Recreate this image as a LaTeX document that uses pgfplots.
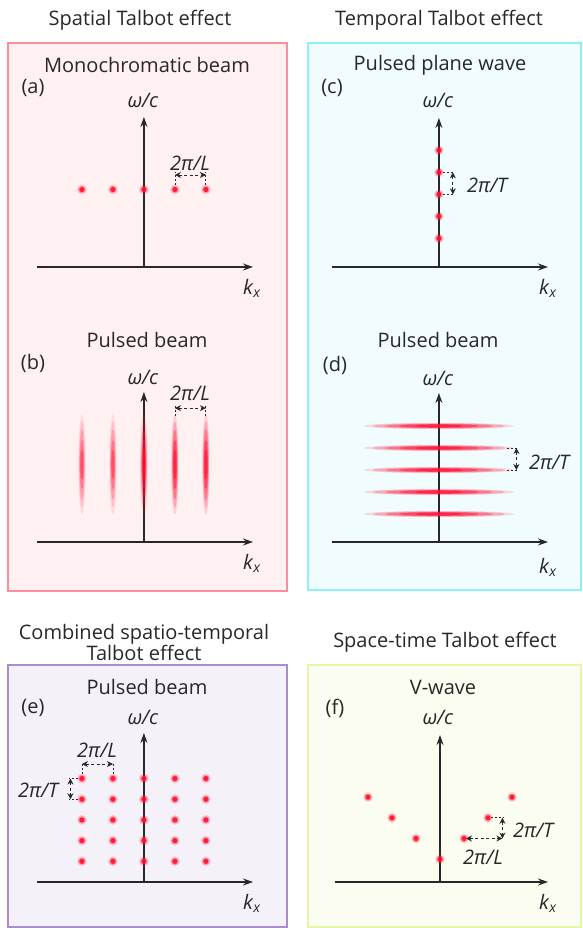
\documentclass[border=0pt]{standalone}
\usepackage{pgfplots}
\pgfplotsset{compat=1.18}
\usetikzlibrary{arrows.meta}
\usepackage{fontspec}
\setmainfont{Open Sans}

\definecolor{dotred}{RGB}{255,15,50}
\definecolor{bgA}{RGB}{255,240,241}
\definecolor{bdA}{RGB}{255,140,155}
\definecolor{bgC}{RGB}{240,252,254}
\definecolor{bdC}{RGB}{140,240,248}
\definecolor{bgE}{RGB}{244,241,248}
\definecolor{bdE}{RGB}{170,140,210}
\definecolor{bgF}{RGB}{250,253,240}
\definecolor{bdF}{RGB}{225,248,165}
\definecolor{ink}{RGB}{40,40,40}

\tikzset{redmark/.style={draw opacity=0, fill=dotred, fill opacity=#1}}
\pgfplotsset{
  panel/.style={scale only axis, anchor=south west, axis lines=middle,
    xtick=\empty, ytick=\empty, enlargelimits=false, clip=false, ymin=0,
    axis line style={line width=1.2pt, ink, -{Stealth[length=10pt,width=7pt]}}},
  glow/.style={only marks, mark=*, mark size=5pt, mark options={redmark=0.15}},
  glow2/.style={only marks, mark=*, mark size=3.8pt, mark options={redmark=0.3}},
  dot/.style={only marks, mark=*, mark size=2.6pt, mark options={redmark=0.9}},
  tickl/.style={line width=0.8pt, ink, dash pattern=on 2pt off 2pt},
  dimarr/.style={line width=0.8pt, ink, dash pattern=on 3pt off 2.5pt,
    arrows={Stealth[length=6pt,width=6pt]-Stealth[length=6pt,width=6pt]}},
}
\newcommand\spots[1]{\addplot[glow] coordinates {#1};\addplot[glow2] coordinates {#1};\addplot[dot] coordinates {#1};}
% layered soft ellipses, #1 opacity factor, #2 coordinates
\newcommand\vlayers[2]{%
  \addplot[only marks, mark=*, mark size=1pt, mark options={redmark=\fpeval{0.15*#1}, xscale=3.6, yscale=50}] coordinates {#2};
  \addplot[only marks, mark=*, mark size=1pt, mark options={redmark=\fpeval{0.22*#1}, xscale=3.0, yscale=43}] coordinates {#2};
  \addplot[only marks, mark=*, mark size=1pt, mark options={redmark=\fpeval{0.32*#1}, xscale=2.5, yscale=35}] coordinates {#2};
  \addplot[only marks, mark=*, mark size=1pt, mark options={redmark=\fpeval{0.45*#1}, xscale=2.0, yscale=25}] coordinates {#2};
  \addplot[only marks, mark=*, mark size=1pt, mark options={redmark=\fpeval{0.6*#1}, xscale=1.5, yscale=15}] coordinates {#2};
}
\newcommand\hlayers[1]{%
  \addplot[only marks, mark=*, mark size=1pt, mark options={redmark=0.15, yscale=3.2, xscale=75}] coordinates {#1};
  \addplot[only marks, mark=*, mark size=1pt, mark options={redmark=0.22, yscale=2.7, xscale=66}] coordinates {#1};
  \addplot[only marks, mark=*, mark size=1pt, mark options={redmark=0.32, yscale=2.2, xscale=54}] coordinates {#1};
  \addplot[only marks, mark=*, mark size=1pt, mark options={redmark=0.45, yscale=1.8, xscale=40}] coordinates {#1};
  \addplot[only marks, mark=*, mark size=1pt, mark options={redmark=0.6, yscale=1.4, xscale=24}] coordinates {#1};
}
\newcommand\kx{\textit{k}\textsubscript{\textit{x}}}

\begin{document}
\begin{tikzpicture}[every node/.style={font=\fontsize{20}{21}\selectfont, text=ink, inner sep=0pt}]
% background boxes and all text, in pixel coordinates
\begin{axis}[at={(0,0)}, anchor=south west, scale only axis, width=582pt, height=928pt,
  xmin=0, xmax=582, ymin=0, ymax=928, y dir=reverse, hide axis, clip=false]
\addplot[fill=bgA, draw=bdA, line width=1.5pt] coordinates {(8,43) (287,43) (287,591) (8,591)} --cycle;
\addplot[fill=bgC, draw=bdC, line width=1.5pt] coordinates {(308,43) (581,43) (581,590) (308,590)} --cycle;
\addplot[fill=bgE, draw=bdE, line width=1.5pt] coordinates {(8,665) (287,665) (287,927) (8,927)} --cycle;
\addplot[fill=bgF, draw=bdF, line width=1.5pt] coordinates {(308,665) (581,665) (581,927) (308,927)} --cycle;

\node at (140,20) {Spatial Talbot effect};
\node at (439,20) {Temporal Talbot effect};
\node[align=center] at (144,642) {Combined spatio-temporal\\Talbot effect};
\node at (445,642) {Space-time Talbot effect};

\node at (147,65) {Monochromatic beam};
\node at (440,65) {Pulsed plane wave};
\node at (147,340) {Pulsed beam};
\node at (438,340) {Pulsed beam};
\node at (147,687) {Pulsed beam};
\node at (443,687) {V-wave};

\node at (33,88) {(a)};
\node at (332,88) {(c)};
\node at (33,363) {(b)};
\node at (335,365) {(d)};
\node at (33,708) {(e)};
\node at (335,708) {(f)};

\node at (143,100) {\textit{ω/c}};
\node at (438,100) {\textit{ω/c}};
\node at (143,377) {\textit{ω/c}};
\node at (438,378) {\textit{ω/c}};
\node at (143,717) {\textit{ω/c}};
\node at (438,717) {\textit{ω/c}};

\node at (252,288) {\kx};
\node at (548,288) {\kx};
\node at (252,563) {\kx};
\node at (548,567) {\kx};
\node at (252,903) {\kx};
\node at (548,903) {\kx};

\node at (190,163) {\textit{2π/L}};
\node at (190,393) {\textit{2π/L}};
\node at (488,185) {\textit{2π/T}};
\node at (550,462) {\textit{2π/T}};
\node at (97,750) {\textit{2π/L}};
\node at (39,790) {\textit{2π/T}};
\node at (534,830) {\textit{2π/T}};
\node at (483,857) {\textit{2π/L}};
\end{axis}

% (a) monochromatic beam
\begin{axis}[panel, at={(37pt,661pt)}, width=216pt, height=150pt,
  xmin=-3.45, xmax=3.52, ymax=4.84]
\spots{(-2,2.5) (-1,2.5) (0,2.5) (1,2.5) (2,2.5)}
\addplot[tickl] coordinates {(1,2.65) (1,3.05)};
\addplot[tickl] coordinates {(2,2.65) (2,3.05)};
\addplot[dimarr] coordinates {(1,2.97) (2,2.97)};
\end{axis}

% (b) pulsed beam
\begin{axis}[panel, at={(37pt,386pt)}, width=216pt, height=150pt,
  xmin=-3.45, xmax=3.52, ymax=4.84]
\vlayers{0.6}{(-2,2.5) (-1,2.5)}
\vlayers{1}{(0,2.5) (1,2.5) (2,2.5)}
\addplot[tickl] coordinates {(1,4.05) (1,4.42)};
\addplot[tickl] coordinates {(2,4.05) (2,4.42)};
\addplot[dimarr] coordinates {(1,4.32) (2,4.32)};
\end{axis}

% (c) pulsed plane wave
\begin{axis}[panel, at={(332pt,661pt)}, width=216pt, height=149pt,
  xmin=-3.45, xmax=3.52, ymax=6.77]
\spots{(0,1.3) (0,2.3) (0,3.3) (0,4.3) (0,5.3)}
\addplot[tickl] coordinates {(0.14,4.3) (0.5,4.3)};
\addplot[tickl] coordinates {(0.14,3.3) (0.5,3.3)};
\addplot[dimarr] coordinates {(0.45,4.3) (0.45,3.3)};
\end{axis}

% (d) pulsed beam
\begin{axis}[panel, at={(332pt,386pt)}, width=216pt, height=149pt,
  xmin=-3.45, xmax=3.52, ymax=6.77]
\hlayers{(0,1.27) (0,2.27) (0,3.27) (0,4.27) (0,5.27)}
\addplot[tickl] coordinates {(2.2,4.27) (2.56,4.27)};
\addplot[tickl] coordinates {(2.2,3.27) (2.56,3.27)};
\addplot[dimarr] coordinates {(2.5,4.27) (2.5,3.27)};
\end{axis}

% (e) combined spatio-temporal
\begin{axis}[panel, at={(37pt,46pt)}, width=216pt, height=149pt,
  xmin=-3.45, xmax=3.52, ymax=7.2]
\spots{(-2,1) (-1,1) (0,1) (1,1) (2,1)
      (-2,2) (-1,2) (0,2) (1,2) (2,2)
      (-2,3) (-1,3) (0,3) (1,3) (2,3)
      (-2,4) (-1,4) (0,4) (1,4) (2,4)
      (-2,5) (-1,5) (0,5) (1,5) (2,5)}
\addplot[tickl] coordinates {(-2,5.22) (-2,5.78)};
\addplot[tickl] coordinates {(-1,5.22) (-1,5.78)};
\addplot[dimarr] coordinates {(-2,5.7) (-1,5.7)};
\addplot[tickl] coordinates {(-2.14,5) (-2.42,5)};
\addplot[tickl] coordinates {(-2.14,4) (-2.42,4)};
\addplot[dimarr] coordinates {(-2.37,5) (-2.37,4)};
\end{axis}

% (f) V-wave
\begin{axis}[panel, at={(335pt,46pt)}, width=213pt, height=147pt,
  xmin=-4.375, xmax=4.5, ymax=7.1]
\spots{(-3,4.1) (-2,3.1) (-1,2.1) (0,1.1) (1,2.1) (2,3.1) (3,4.1)}
\addplot[tickl] coordinates {(2.14,3.1) (2.65,3.1)};
\addplot[dimarr] coordinates {(2.6,3.1) (2.6,2.1)};
\addplot[dimarr] coordinates {(1.08,2.1) (2.6,2.1)};
\end{axis}
\pgfresetboundingbox
\useasboundingbox (0,0) rectangle (582pt,928pt);
\end{tikzpicture}
\end{document}
